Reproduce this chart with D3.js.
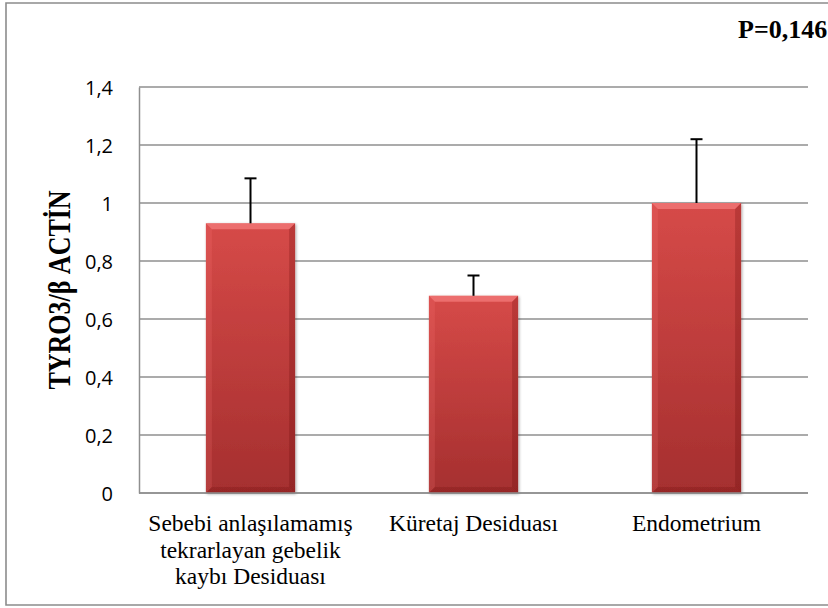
<!DOCTYPE html>
<html>
<head>
<meta charset="utf-8">
<script src="https://cdn.jsdelivr.net/npm/d3@7"></script>
<style>
  html, body { margin: 0; padding: 0; background: #fff; }
  svg { display: block; }
</style>
</head>
<body>
<svg id="chart" width="828" height="608"></svg>
<script>
// TYRO3 / β-actin expression by tissue group
const categories = [
  ["Sebebi anlaşılamamış", "tekrarlayan gebelik", "kaybı Desiduası"],
  ["Küretaj Desiduası"],
  ["Endometrium"]
];
const means = [0.93, 0.68, 1.0];
const errors = [0.155, 0.07, 0.22];
const yTicks = [0, 0.2, 0.4, 0.6, 0.8, 1, 1.2, 1.4];
const pLabel = "P=0,146";
const yTitle = "TYRO3/β ACTİN";

const svg = d3.select("#chart");
const W = 828, H = 608;
const m = { left: 139, right: 20, top: 87, bottom: 115 };
const serif = "'Liberation Serif', 'Times New Roman', serif";

// outer frame
svg.append("path")
  .attr("d", `M840,3 H6 V605 H840`)
  .attr("fill", "none").attr("stroke", "#8c8c8c").attr("stroke-width", 1.6);

const x = d3.scaleBand()
  .domain(d3.range(categories.length))
  .range([m.left, W - m.right])
  .paddingInner(0.6).paddingOuter(0.3);

const y = d3.scaleLinear().domain([0, 1.4]).range([H - m.bottom, m.top]);

const fmt = d => String(d).replace(".", ",");

// gridlines
svg.append("g").selectAll("line").data(yTicks).join("line")
  .attr("x1", m.left).attr("x2", W - m.right)
  .attr("y1", d => y(d)).attr("y2", d => y(d))
  .attr("stroke", "#8f8f8f").attr("stroke-width", 1.5);

// y axis
const yAxis = svg.append("g")
  .attr("transform", `translate(${m.left},0)`)
  .call(d3.axisLeft(y).tickValues(yTicks).tickFormat(fmt).tickSize(0).tickPadding(26));
yAxis.select(".domain").attr("stroke", "#8f8f8f").attr("stroke-width", 1.5);
yAxis.selectAll("text")
  .attr("font-family", "'Open Sans', sans-serif").attr("font-size", 20).attr("fill", "#000")
  .attr("dy", "0.36em");

// bar fill & shadow
const defs = svg.append("defs");
const grad = defs.append("linearGradient").attr("id", "barGrad")
  .attr("x1", 0).attr("y1", 0).attr("x2", 0).attr("y2", 1);
grad.append("stop").attr("offset", "0%").attr("stop-color", "#d64a48");
grad.append("stop").attr("offset", "100%").attr("stop-color", "#a52f2f");
const sh = defs.append("filter").attr("id", "shadow")
  .attr("x", "-10%").attr("y", "-10%").attr("width", "130%").attr("height", "130%");
sh.append("feDropShadow").attr("dx", 1).attr("dy", 1).attr("stdDeviation", 1.5)
  .attr("flood-color", "#000").attr("flood-opacity", 0.35);

const bars = svg.append("g").selectAll("g").data(means).join("g");
const bev = 6;
bars.append("rect")
  .attr("x", (d, i) => x(i)).attr("y", d => y(d))
  .attr("width", x.bandwidth()).attr("height", d => y(0) - y(d))
  .attr("fill", "url(#barGrad)").attr("filter", "url(#shadow)");
// bevel edges
bars.each(function (d, i) {
  const g = d3.select(this);
  const x0 = x(i), x1 = x(i) + x.bandwidth(), y0 = y(d), y1 = y(0);
  const b = Math.min(bev, (y1 - y0) / 2);
  const poly = (pts, fill) => g.append("polygon")
    .attr("points", pts.map(p => p.join(",")).join(" ")).attr("fill", fill);
  poly([[x0, y0], [x1, y0], [x1 - b, y0 + b], [x0 + b, y0 + b]], "rgba(255,140,140,0.55)");
  poly([[x0, y0], [x0 + b, y0 + b], [x0 + b, y1 - b], [x0, y1]], "rgba(255,120,120,0.18)");
  poly([[x1, y0], [x1, y1], [x1 - b, y1 - b], [x1 - b, y0 + b]], "rgba(90,0,0,0.22)");
  poly([[x0, y1], [x0 + b, y1 - b], [x1 - b, y1 - b], [x1, y1]], "rgba(90,0,0,0.18)");
});

// error bars (upper only)
const eb = svg.append("g").attr("stroke", "#000").attr("stroke-width", 2);
eb.selectAll("line.v").data(means).join("line").attr("class", "v")
  .attr("x1", (d, i) => x(i) + x.bandwidth() / 2).attr("x2", (d, i) => x(i) + x.bandwidth() / 2)
  .attr("y1", d => y(d)).attr("y2", (d, i) => y(d + errors[i]));
eb.selectAll("line.c").data(means).join("line").attr("class", "c")
  .attr("x1", (d, i) => x(i) + x.bandwidth() / 2 - 6).attr("x2", (d, i) => x(i) + x.bandwidth() / 2 + 6)
  .attr("y1", (d, i) => y(d + errors[i])).attr("y2", (d, i) => y(d + errors[i]));

// bottom axis line
svg.append("line")
  .attr("x1", m.left).attr("x2", W - m.right).attr("y1", y(0)).attr("y2", y(0))
  .attr("stroke", "#8f8f8f").attr("stroke-width", 1.5);

// category labels
const cl = svg.append("g").selectAll("text").data(categories).join("text")
  .attr("x", (d, i) => x(i) + x.bandwidth() / 2)
  .attr("y", y(0) + 38)
  .attr("text-anchor", "middle")
  .attr("font-family", serif)
  .attr("font-size", 23.5).attr("fill", "#000");
cl.selectAll("tspan").data(d => d).join("tspan")
  .attr("x", function () { return d3.select(this.parentNode).attr("x"); })
  .attr("dy", (d, j) => j === 0 ? 0 : 26.5)
  .text(d => d);

// y title (glyphs drawn slightly taller than wide)
svg.append("text")
  .attr("transform", `translate(70,${(y(0) + y(1.4)) / 2}) rotate(-90) scale(1,1.2)`)
  .attr("text-anchor", "middle")
  .attr("font-family", serif)
  .attr("font-weight", "bold").attr("font-size", 26).attr("fill", "#000")
  .text(yTitle);

// p value
svg.append("text")
  .attr("x", 738).attr("y", 38)
  .attr("font-family", serif)
  .attr("font-weight", "bold").attr("font-size", 26).attr("fill", "#000")
  .text(pLabel);
</script>
</body>
</html>
